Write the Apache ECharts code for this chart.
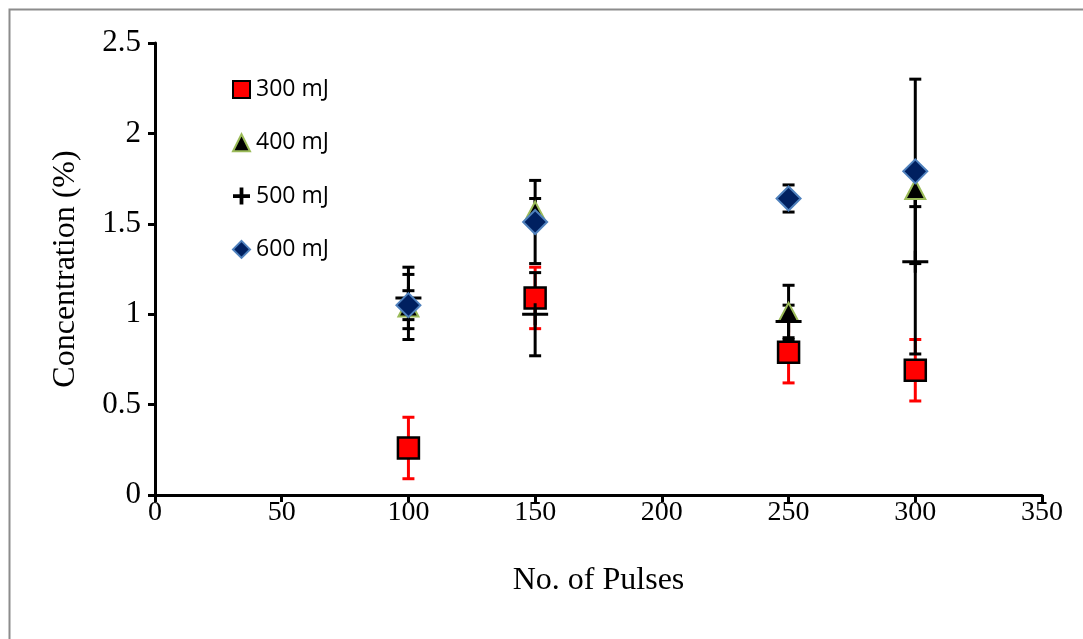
<!DOCTYPE html>
<html>
<head>
<meta charset="utf-8">
<script src="https://cdn.jsdelivr.net/npm/echarts@6/dist/echarts.min.js"></script>
<style>
  html, body { margin: 0; padding: 0; background: #fff; }
  #chart { width: 1083px; height: 639px; }
</style>
</head>
<body>
<div id="chart"></div>
<script>
// Pulse counts on the x axis
const pulses = [100, 150, 250, 300];

// Mean concentration (%) and its ± error for each laser energy
const conc300 = [0.26, 1.09, 0.79, 0.69];
const err300  = [0.17, 0.17, 0.17, 0.17];
const conc400 = [1.04, 1.57, 1.01, 1.69];
const err400  = [0.18, 0.07, 0.15, 0.095];
const conc500 = [1.09, 1.00, 0.96, 1.29];
const err500  = [0.17, 0.23, 0.09, 0.51];
const conc600 = [1.05, 1.51, 1.64, 1.79];
const err600  = [0.08, 0.23, 0.075, 0.51];

const seriesNames = ['300 mJ', '400 mJ', '500 mJ', '600 mJ'];
const xTickLabels = ['0', '50', '100', '150', '200', '250', '300', '350'];
const yTickLabels = ['0', '0.5', '1', '1.5', '2', '2.5'];

const serif = '"Liberation Serif", "Times New Roman", serif';
const plusPath = 'path://M0,9.5H26V12.5H0ZM11.5,0H14.5V22H11.5Z';
const plusLegend = 'path://M0,7H18V11H0ZM7,0H11V18H7Z';

function points(vals) {
  return pulses.map((p, i) => [p, vals[i]]);
}

// Vertical error bar with caps at value ± err
function errorSeries(vals, errs, color, z) {
  return {
    type: 'custom',
    silent: true,
    z: z,
    data: pulses.map((p, i) => [p, vals[i] - errs[i], vals[i] + errs[i]]),
    encode: { x: 0, y: [1, 2] },
    renderItem(params, api) {
      const x = api.value(0);
      const lo = api.coord([x, api.value(1)]);
      const hi = api.coord([x, api.value(2)]);
      const half = 6;
      const style = { stroke: color, lineWidth: 3, fill: null };
      return {
        type: 'group',
        children: [
          { type: 'line', shape: { x1: lo[0], y1: lo[1], x2: hi[0], y2: hi[1] }, style },
          { type: 'line', shape: { x1: lo[0] - half, y1: lo[1], x2: lo[0] + half, y2: lo[1] }, style },
          { type: 'line', shape: { x1: hi[0] - half, y1: hi[1], x2: hi[0] + half, y2: hi[1] }, style }
        ]
      };
    }
  };
}

const chart = echarts.init(document.getElementById('chart'), null, { renderer: 'canvas' });

chart.setOption({
  animation: false,
  backgroundColor: '#ffffff',
  graphic: [{
    type: 'rect',
    left: 7, top: 7,
    shape: { x: 0, y: 0, width: 1200, height: 800 },
    style: { fill: 'none', stroke: '#8c8c8c', lineWidth: 2 },
    silent: true,
    z: -10
  }],
  grid: { left: 155, right: 41, top: 43, bottom: 144 },
  legend: {
    orient: 'vertical',
    left: 232,
    top: 78,
    padding: 0,
    itemWidth: 17,
    itemHeight: 17,
    itemGap: 30.3,
    selectedMode: false,
    textStyle: { fontFamily: '"Open Sans", "Noto Sans", sans-serif', fontSize: 23, color: '#000', lineHeight: 17, padding: [0, 0, 0, 1] },
    data: [
      { name: seriesNames[0] },
      { name: seriesNames[1] },
      { name: seriesNames[2], icon: plusLegend },
      { name: seriesNames[3] }
    ]
  },
  xAxis: {
    type: 'value',
    min: 0, max: 350, interval: 50,
    name: 'No. of Pulses',
    nameLocation: 'middle',
    nameGap: 70,
    nameTextStyle: { fontFamily: serif, fontSize: 32, color: '#000' },
    axisLine: { show: true, onZero: false, lineStyle: { color: '#000', width: 3 } },
    axisTick: { show: true, length: 7, lineStyle: { color: '#000', width: 3 } },
    splitLine: { show: false },
    axisLabel: {
      margin: 4,
      fontFamily: serif, fontSize: 28, color: '#000',
      formatter: (v) => xTickLabels[Math.round(v / 50)]
    }
  },
  yAxis: {
    type: 'value',
    min: 0, max: 2.5, interval: 0.5,
    name: 'Concentration (%)',
    nameLocation: 'middle',
    nameGap: 73,
    nameTextStyle: { fontFamily: serif, fontSize: 32, color: '#000' },
    axisLine: { show: true, onZero: false, lineStyle: { color: '#000', width: 3 } },
    axisTick: { show: true, length: 7, lineStyle: { color: '#000', width: 3 } },
    splitLine: { show: false },
    axisLabel: {
      margin: 14,
      fontFamily: serif, fontSize: 31, color: '#000',
      padding: [4, 0, 0, 0],
      formatter: (v) => yTickLabels[Math.round(v / 0.5)]
    }
  },
  series: [
    errorSeries(conc300, err300, '#ff0000', 2),
    errorSeries(conc400, err400, '#000000', 3),
    errorSeries(conc500, err500, '#000000', 3),
    errorSeries(conc600, err600, '#000000', 3),
    {
      name: seriesNames[0], type: 'scatter', z: 5,
      symbol: 'rect', symbolSize: 21,
      itemStyle: { color: '#ff0000', borderColor: '#000', borderWidth: 2.5, opacity: 1 },
      data: points(conc300)
    },
    {
      name: seriesNames[1], type: 'scatter', z: 6,
      symbol: 'triangle', symbolSize: [20, 19],
      itemStyle: { color: '#000000', borderColor: '#9bbb59', borderWidth: 2, opacity: 1 },
      data: points(conc400)
    },
    {
      name: seriesNames[2], type: 'scatter', z: 7,
      symbol: plusPath, symbolSize: [26, 22],
      itemStyle: { color: '#000000', opacity: 1 },
      data: points(conc500)
    },
    {
      name: seriesNames[3], type: 'scatter', z: 8,
      symbol: 'diamond', symbolSize: 24,
      itemStyle: { color: '#002060', borderColor: '#4f81bd', borderWidth: 2, opacity: 1 },
      data: points(conc600)
    }
  ]
});
</script>
</body>
</html>
